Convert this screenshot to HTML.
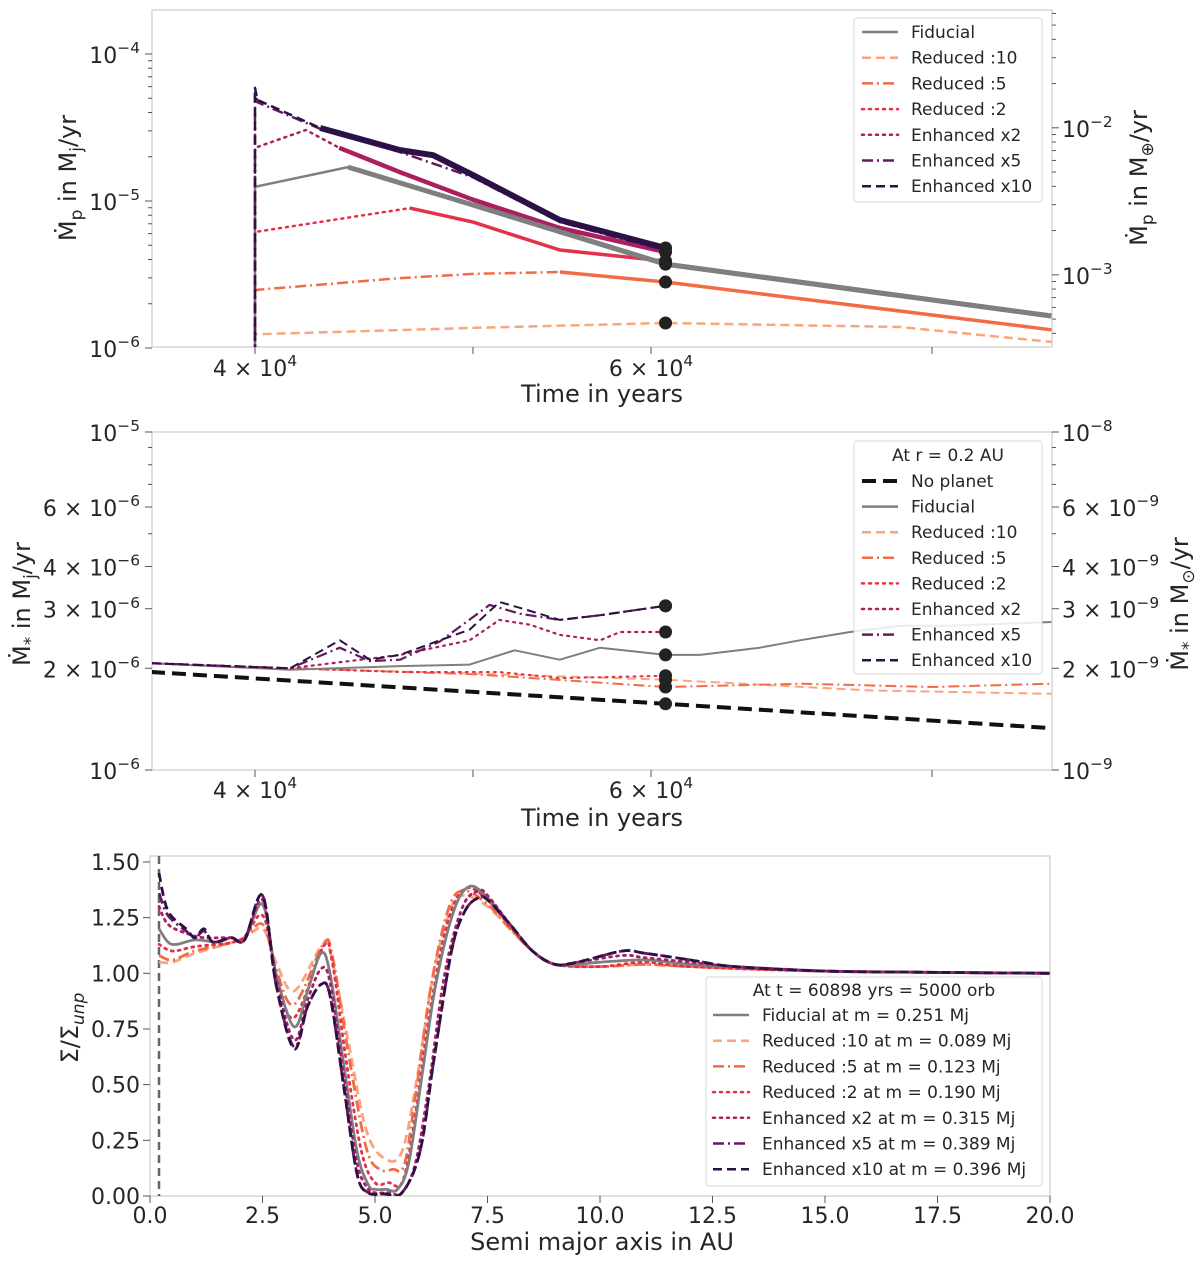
<!DOCTYPE html>
<html><head><meta charset="utf-8">
<style>
html,body{margin:0;padding:0;background:#fff;}
svg{display:block;font-family:"DejaVu Sans","Liberation Sans",sans-serif;}
</style></head>
<body>
<svg id="fig" width="1200" height="1264" viewBox="0 0 1200 1264" xmlns="http://www.w3.org/2000/svg"></svg>
<script>
// ---------- Panel 1 data: planet accretion rate (Mj/yr) ----------
const p1FidT = [40000,40000,44000,50000,60898,90400];
const p1FidV = [9e-7,1.25e-5,1.7e-5,9.4e-6,3.72e-6,1.65e-6];
const p1R10T = [40000,40000,50000,60898,77420,90400];
const p1R10V = [9e-7,1.24e-6,1.37e-6,1.48e-6,1.39e-6,1.10e-6];
const p1R5T = [40000,40000,46400,50000,54650,60898,90400];
const p1R5V = [9e-7,2.48e-6,2.99e-6,3.19e-6,3.29e-6,2.81e-6,1.33e-6];
const p1R2T = [40000,40000,46870,50000,54650,60898];
const p1R2V = [9e-7,6.15e-6,8.95e-6,7.19e-6,4.64e-6,3.9e-6];
const p1E2T = [40000,40000,42140,43600,46400,50000,54650,60898];
const p1E2V = [9e-7,2.3e-5,3.04e-5,2.3e-5,1.57e-5,1.02e-5,6.55e-6,4.5e-6];
const p1E5T = [40000,40000,40100,42760,46400,50000,54650,60898];
const p1E5V = [9e-7,5.7e-5,4.7e-5,3.1e-5,2.15e-5,1.45e-5,7.2e-6,4.6e-6];
const p1E10T = [40000,40000,40100,42760,46400,48000,50000,54650,60898];
const p1E10V = [9e-7,5.88e-5,4.87e-5,3.14e-5,2.22e-5,2.05e-5,1.5e-5,7.43e-6,4.79e-6];
const p1LeftTicks = [1e-6,1e-5,1e-4];
const p1LeftLabels = ["−6","−5","−4"];
const p1RightTicks = [1e-3,1e-2];
const p1RightLabels = ["−3","−2"];

// ---------- Panel 2 data: stellar accretion rate (Mj/yr) ----------
const p2NoT = [35960,60898,90400];
const p2NoV = [1.95e-6,1.57e-6,1.33e-6];
const p2FidT = [35960,41460,46400,49830,52180,54650,56950,60898,63080,67070,69880,73560,77420,81470,90400];
const p2FidV = [2.07e-6,1.98e-6,2.03e-6,2.05e-6,2.26e-6,2.12e-6,2.30e-6,2.19e-6,2.19e-6,2.30e-6,2.42e-6,2.56e-6,2.67e-6,2.67e-6,2.74e-6];
const p2R10T = [35960,41460,50000,60898,75000,90400];
const p2R10V = [2.07e-6,2.0e-6,1.93e-6,1.85e-6,1.72e-6,1.68e-6];
const p2R5T = [35960,41460,50000,60898,70000,80000,90400];
const p2R5V = [2.07e-6,2.0e-6,1.92e-6,1.76e-6,1.8e-6,1.76e-6,1.8e-6];
const p2R2T = [35960,41460,46400,51380,54650,60898];
const p2R2V = [2.07e-6,2.0e-6,1.95e-6,1.95e-6,1.87e-6,1.90e-6];
const p2E2T = [35960,41460,46400,49830,51380,53000,54650,56950,58130,60898];
const p2E2V = [2.07e-6,2.0e-6,2.19e-6,2.42e-6,2.78e-6,2.69e-6,2.51e-6,2.42e-6,2.56e-6,2.56e-6];
const p2E5T = [35960,41460,43630,44990,46400,48330,50860,52450,54650,56950,60898];
const p2E5V = [2.07e-6,2.0e-6,2.3e-6,2.1e-6,2.12e-6,2.4e-6,3.08e-6,2.9e-6,2.78e-6,2.87e-6,3.06e-6];
const p2E10T = [35960,41460,43630,44990,46400,48330,49830,51380,52450,54650,56950,60898];
const p2E10V = [2.07e-6,2.0e-6,2.42e-6,2.12e-6,2.19e-6,2.42e-6,2.6e-6,3.14e-6,3.02e-6,2.78e-6,2.87e-6,3.06e-6];
const p2Ticks = [1e-6,2e-6,3e-6,4e-6,6e-6,1e-5];
const p2LeftLabels = [["10","−6"],["2 × 10","−6"],["3 × 10","−6"],["4 × 10","−6"],["6 × 10","−6"],["10","−5"]];
const p2RightLabels = [["10","−9"],["2 × 10","−9"],["3 × 10","−9"],["4 × 10","−9"],["6 × 10","−9"],["10","−8"]];

// ---------- Panel 3 data: surface density profiles ----------
const p3FidR = [0.2,0.4,0.6,1.0,1.5,1.8,2.1,2.5,2.8,3.2,3.5,3.8,4.0,4.3,4.6,4.85,5.0,5.25,5.5,5.75,6.05,6.35,6.75,7.1,7.5,8.0,8.5,9.0,9.5,10,11,12,13,15,17,20];
const p3FidV = [1.2,1.14,1.13,1.15,1.14,1.16,1.15,1.31,1.0,0.76,0.92,1.09,1.0,0.6,0.2,0.05,0.03,0.03,0.03,0.15,0.55,0.95,1.28,1.39,1.34,1.22,1.10,1.04,1.04,1.05,1.06,1.04,1.03,1.01,1.005,1.0];
const p3R10R = [0.2,0.5,1.0,2.0,2.5,2.8,3.2,3.8,4.0,4.4,4.8,5.2,5.6,5.95,6.3,6.7,7.0,7.5,8.0,8.5,9.0,10,11,12,15,20];
const p3R10V = [1.05,1.05,1.09,1.15,1.2,1.05,0.92,1.12,1.1,0.7,0.3,0.17,0.2,0.55,1.0,1.3,1.35,1.3,1.2,1.1,1.04,1.03,1.04,1.03,1.01,1.0];
const p3R5R = [0.2,0.5,1.0,2.0,2.5,2.8,3.2,3.85,4.05,4.4,4.8,5.1,5.4,5.65,5.9,6.25,6.65,7.0,7.5,8.0,8.5,9.0,10,11,12,15,20];
const p3R5V = [1.08,1.06,1.1,1.15,1.22,1.02,0.86,1.13,1.08,0.65,0.22,0.12,0.12,0.14,0.45,0.95,1.3,1.37,1.31,1.2,1.1,1.04,1.03,1.04,1.03,1.01,1.0];
const p3R2R = [0.2,0.5,1.0,2.0,2.5,2.8,3.2,3.85,4.05,4.35,4.7,5.0,5.3,5.6,5.85,6.2,6.6,7.0,7.5,8.0,8.5,9.0,10,11,12,15,20];
const p3R2V = [1.13,1.1,1.12,1.15,1.26,1.0,0.8,1.12,1.05,0.62,0.2,0.06,0.06,0.06,0.3,0.8,1.22,1.38,1.33,1.21,1.1,1.04,1.03,1.05,1.03,1.01,1.0];
const p3E2R = [0.2,0.4,0.8,1.2,1.8,2.1,2.5,2.8,3.2,3.5,3.8,4.0,4.3,4.6,4.85,5.0,5.3,5.6,5.9,6.2,6.55,6.95,7.3,7.5,8.0,8.5,9.0,9.5,10.5,11,12,13,15,17,20];
const p3E2V = [1.3,1.22,1.18,1.16,1.16,1.15,1.33,0.98,0.7,0.88,1.02,0.96,0.55,0.15,0.03,0.015,0.015,0.015,0.15,0.5,1.0,1.3,1.37,1.35,1.22,1.1,1.04,1.05,1.08,1.07,1.05,1.03,1.01,1.005,1.0];
const p3E5R = [0.2,0.4,0.8,1.0,1.2,1.4,1.8,2.1,2.5,2.8,3.2,3.5,3.8,4.0,4.3,4.6,4.85,5.2,5.6,6.0,6.3,6.7,7.0,7.3,7.5,8.0,8.5,9.0,9.5,10.5,11,12,13,15,17,20];
const p3E5V = [1.36,1.26,1.19,1.16,1.19,1.14,1.16,1.15,1.35,0.95,0.67,0.85,0.95,0.9,0.5,0.1,0.015,0.01,0.015,0.2,0.6,1.1,1.28,1.34,1.33,1.22,1.1,1.04,1.05,1.1,1.09,1.06,1.03,1.01,1.005,1.0];
const p3E10R = [0.2,0.4,0.8,1.0,1.2,1.4,1.8,2.1,2.5,2.8,3.2,3.5,3.8,4.0,4.3,4.6,4.85,5.2,5.6,6.0,6.3,6.7,7.0,7.3,7.5,8.0,8.5,9.0,9.5,10.5,11,12,13,15,17,20];
const p3E10V = [1.45,1.28,1.2,1.16,1.2,1.14,1.16,1.15,1.35,0.95,0.66,0.85,0.95,0.9,0.5,0.1,0.015,0.01,0.015,0.2,0.6,1.1,1.28,1.34,1.33,1.22,1.1,1.04,1.05,1.1,1.09,1.06,1.03,1.01,1.005,1.0];
const p3XTicks = [0,2.5,5,7.5,10,12.5,15,17.5,20];
const p3XLabels = ["0.0","2.5","5.0","7.5","10.0","12.5","15.0","17.5","20.0"];
const p3YTicks = [0,0.25,0.5,0.75,1.0,1.25,1.5];
const p3YLabels = ["0.00","0.25","0.50","0.75","1.00","1.25","1.50"];

// ---------- helpers ----------
const NS = "http://www.w3.org/2000/svg";
const svg = document.getElementById("fig");
function mk(tag, attrs, parent){ const e=document.createElementNS(NS,tag); for(const k in attrs) e.setAttribute(k,attrs[k]); (parent||svg).appendChild(e); return e; }
const C = {fid:"#7f7f7f", r10:"#f9a57d", r5:"#f36b46", r2:"#e4314b", e2:"#ab1f5f", e5:"#661a5c", e10:"#2b1145", no:"#111"};
const DASH = {solid:"", dash:"9,5", dashdot:"11,4,2,4", dot:"2,5", bigdash:"14,7"};

const X1 = t => 255 + (Math.log10(t) - Math.log10(40000)) * 2249;
const Y1 = v => 54 + (-4 - Math.log10(v)) * 147;
const Y1r = v => 54 + (-4 - Math.log10(v / 317.8)) * 147;
const Y2 = v => 770 - (Math.log10(v) + 6) * 338;
const X3 = r => 150 + 45 * r;
const Y3 = v => 1196 - 222.7 * v;

function pathFrom(xs, ys, fx, fy){ return xs.map((x,i)=>(i?"L":"M")+fx(x).toFixed(1)+","+fy(ys[i]).toFixed(1)).join(" "); }
function smoothPath(xs, ys, fx, fy){
  const P = xs.map((x,i)=>[fx(x), fy(ys[i])]);
  let d = "M"+P[0][0].toFixed(1)+","+P[0][1].toFixed(1);
  for(let i=0;i<P.length-1;i++){
    const p0=P[Math.max(0,i-1)], p1=P[i], p2=P[i+1], p3=P[Math.min(P.length-1,i+2)];
    const c1=[p1[0]+(p2[0]-p0[0])/6, p1[1]+(p2[1]-p0[1])/6];
    const c2=[p2[0]-(p3[0]-p1[0])/6, p2[1]-(p3[1]-p1[1])/6];
    d += " C"+c1[0].toFixed(1)+","+c1[1].toFixed(1)+" "+c2[0].toFixed(1)+","+c2[1].toFixed(1)+" "+p2[0].toFixed(1)+","+p2[1].toFixed(1);
  }
  return d;
}
function powText(x, y, base, exp, anchor, size, name){
  const t = mk("text",{x:x,y:y,"text-anchor":anchor,"font-size":size,fill:"#262626"});
  
  
  const a = mk("tspan",{},t); a.textContent = base;
  const b = mk("tspan",{dy:-size*0.45,"font-size":size*0.7},t); b.textContent = exp;
  return t;
}
function label(x,y,str,size,anchor,name,extra){
  const t = mk("text",Object.assign({x:x,y:y,"font-size":size,"text-anchor":anchor||"start",fill:"#262626"},extra||{}));
  
  
  t.textContent = str; return t;
}
function frame(x0,y0,x1,y1,name){
  const r = mk("rect",{x:x0,y:y0,width:x1-x0,height:y1-y0,fill:"none",stroke:"#cfcfcf","stroke-width":1.3});
  
  
}
function clip(id,x0,y0,x1,y1){ const cp=mk("clipPath",{id:id}); mk("rect",{x:x0,y:y0,width:x1-x0,height:y1-y0},cp); }
function tick(x1,y1,x2,y2){ mk("line",{x1:x1,y1:y1,x2:x2,y2:y2,stroke:"#555","stroke-width":1}); }
function series(xs, ys, fx, fy, color, style, width, clipId, name, smooth){
  const p = mk("path",{d: smooth?smoothPath(xs,ys,fx,fy):pathFrom(xs,ys,fx,fy), fill:"none", stroke:color, "stroke-width":width, "stroke-dasharray":DASH[style], "stroke-linecap": style==="dot"?"round":"butt", "stroke-linejoin":"round", "clip-path":"url(#"+clipId+")"});
  
  
  return p;
}
function legendEntry(x, y, color, style, width, text, name){
  const g = mk("g",{});
  
  
  mk("line",{x1:x,y1:y,x2:x+36,y2:y,stroke:color,"stroke-width":width,"stroke-dasharray":DASH[style],"stroke-linecap":style==="dot"?"round":"butt"},g);
  const t = mk("text",{x:x+49,y:y+6,"font-size":17,fill:"#262626"},g); t.textContent = text;
}
function legendBox(x,y,w,h,name){
  const r = mk("rect",{x:x,y:y,width:w,height:h,rx:3,fill:"#fff","fill-opacity":0.85,stroke:"#d8d8d8","stroke-width":1});
  
  
}
function dot(x,y,name){ const c=mk("circle",{cx:x,cy:y,r:6.5,fill:"#222"});   }

// ================= PANEL 1 =================
clip("c1",152,10,1052,347);
frame(152,10,1052,347,"panel1-frame");
p1LeftTicks.forEach((v,i)=>{ const y=Y1(v); tick(145,y,152,y); powText(140,y+9,"10",p1LeftLabels[i],"end",22,"p1-ytick-label"); });
for(let d=-6; d<-3.7; d++) for(let m=2;m<10;m++){ const y=Y1(m*Math.pow(10,d)); if(y>10) tick(148,y,152,y); }
p1RightTicks.forEach((v,i)=>{ const y=Y1r(v); tick(1052,y,1059,y); powText(1062,y+9,"10",p1RightLabels[i],"start",22,"p1-right-tick-label"); });
for(let d=-4; d<-1; d++) for(let m=2;m<10;m++){ const y=Y1r(m*Math.pow(10,d)); if(y>10&&y<347) tick(1052,y,1056,y); }
[40000,50000,60000,80000].forEach(t=>tick(X1(t),347,X1(t),354));
powText(X1(40000),376,"4 × 10","4","middle",22,"p1-xtick-label");
powText(X1(60000),376,"6 × 10","4","middle",22,"p1-xtick-label");
label(602,402,"Time in years",24,"middle","p1-x-axis-title");
(function(){ const t=label(0,0,"",24,"middle","p1-y-axis-title",{transform:"translate(76,178) rotate(-90)"}); t.innerHTML='<tspan>Ṁ</tspan><tspan font-size="17" dy="6">p</tspan><tspan dy="-6"> in M</tspan><tspan font-size="17" dy="6">j</tspan><tspan dy="-6">/yr</tspan>'; })();
(function(){ const t=label(0,0,"",24,"middle","p1-right-axis-title",{transform:"translate(1147,178) rotate(-90)"}); t.innerHTML='<tspan>Ṁ</tspan><tspan font-size="17" dy="6">p</tspan><tspan dy="-6"> in M</tspan><tspan font-size="17" dy="6">⊕</tspan><tspan dy="-6">/yr</tspan>'; })();

series(p1R10T,p1R10V,X1,Y1,C.r10,"dash",2.5,"c1","p1-reduced10");
series(p1R5T,p1R5V,X1,Y1,C.r5,"dashdot",2.5,"c1","p1-reduced5");
series(p1R5T.slice(4),p1R5V.slice(4),X1,Y1,C.r5,"solid",3.5,"c1","p1-reduced5-band");
series(p1R2T,p1R2V,X1,Y1,C.r2,"dot",2.5,"c1","p1-reduced2");
series(p1R2T.slice(2),p1R2V.slice(2),X1,Y1,C.r2,"solid",3.5,"c1","p1-reduced2-band");
series(p1FidT,p1FidV,X1,Y1,C.fid,"solid",2.5,"c1","p1-fiducial");
series(p1FidT.slice(2),p1FidV.slice(2),X1,Y1,C.fid,"solid",5,"c1","p1-fiducial-band");
series(p1E2T,p1E2V,X1,Y1,C.e2,"dot",2.5,"c1","p1-enhanced2");
series(p1E2T.slice(3),p1E2V.slice(3),X1,Y1,C.e2,"solid",4.5,"c1","p1-enhanced2-band");
series(p1E5T,p1E5V,X1,Y1,C.e5,"dashdot",2.5,"c1","p1-enhanced5");
series(p1E10T,p1E10V,X1,Y1,C.e10,"dash",2.5,"c1","p1-enhanced10");
series(p1E10T.slice(3),p1E10V.slice(3),X1,Y1,C.e10,"solid",6,"c1","p1-enhanced10-band");
series(p1FidT.slice(3),p1FidV.slice(3),X1,Y1,C.fid,"solid",5,"c1","p1-fiducial-band-top");
[p1E10V,p1E2V,p1R2V,p1R5V,p1R10V,p1FidV].forEach((arr,k)=>{
  const ts=[p1E10T,p1E2T,p1R2T,p1R5T,p1R10T,p1FidT][k]; const i=ts.indexOf(60898); if(i>=0) dot(X1(60898),Y1(arr[i]),"p1-end-marker");
});
legendBox(854,18,188,184,"p1-legend");
[[C.fid,"solid","Fiducial"],[C.r10,"dash","Reduced :10"],[C.r5,"dashdot","Reduced :5"],[C.r2,"dot","Reduced :2"],[C.e2,"dot","Enhanced x2"],[C.e5,"dashdot","Enhanced x5"],[C.e10,"dash","Enhanced x10"]]
  .forEach((e,i)=>legendEntry(862,32+i*25.7,e[0],e[1],2.5,e[2],"p1-legend-entry"));

// ================= PANEL 2 =================
clip("c2",152,432,1052,770);
frame(152,432,1052,770,"panel2-frame");
p2Ticks.forEach((v,i)=>{ const y=Y2(v); tick(145,y,152,y); tick(1052,y,1059,y);
  powText(140,y+9,p2LeftLabels[i][0],p2LeftLabels[i][1],"end",22,"p2-ytick-label");
  powText(1062,y+9,p2RightLabels[i][0],p2RightLabels[i][1],"start",22,"p2-right-tick-label"); });
[5e-6,7e-6,8e-6,9e-6].forEach(v=>{ const y=Y2(v); tick(148,y,152,y); tick(1052,y,1056,y); });
[40000,50000,60000,80000].forEach(t=>tick(X1(t),770,X1(t),777));
powText(X1(40000),798,"4 × 10","4","middle",22,"p2-xtick-label");
powText(X1(60000),798,"6 × 10","4","middle",22,"p2-xtick-label");
label(602,826,"Time in years",24,"middle","p2-x-axis-title");
(function(){ const t=label(0,0,"",24,"middle","p2-y-axis-title",{transform:"translate(30,604) rotate(-90)"}); t.innerHTML='<tspan>Ṁ</tspan><tspan font-size="17" dy="6">*</tspan><tspan dy="-6"> in M</tspan><tspan font-size="17" dy="6">j</tspan><tspan dy="-6">/yr</tspan>'; })();
(function(){ const t=label(0,0,"",24,"middle","p2-right-axis-title",{transform:"translate(1188,604) rotate(-90)"}); t.innerHTML='<tspan>Ṁ</tspan><tspan font-size="17" dy="6">*</tspan><tspan dy="-6"> in M</tspan><tspan font-size="17" dy="6">⊙</tspan><tspan dy="-6">/yr</tspan>'; })();
series(p2NoT,p2NoV,X1,Y2,C.no,"bigdash",4,"c2","p2-no-planet");
series(p2R10T,p2R10V,X1,Y2,C.r10,"dash",2,"c2","p2-reduced10");
series(p2R5T,p2R5V,X1,Y2,C.r5,"dashdot",2,"c2","p2-reduced5");
series(p2R2T,p2R2V,X1,Y2,C.r2,"dot",2,"c2","p2-reduced2");
series(p2FidT,p2FidV,X1,Y2,C.fid,"solid",2,"c2","p2-fiducial");
series(p2E2T,p2E2V,X1,Y2,C.e2,"dot",2.2,"c2","p2-enhanced2");
series(p2E5T,p2E5V,X1,Y2,C.e5,"dashdot",2.2,"c2","p2-enhanced5");
series(p2E10T,p2E10V,X1,Y2,C.e10,"dash",2,"c2","p2-enhanced10");
[[p2NoT,p2NoV],[p2FidT,p2FidV],[p2R10T,p2R10V],[p2R5T,p2R5V],[p2R2T,p2R2V],[p2E2T,p2E2V],[p2E5T,p2E5V],[p2E10T,p2E10V]].forEach(s=>{
  const i=s[0].indexOf(60898); if(i>=0) dot(X1(60898),Y2(s[1][i]),"p2-end-marker"); });
legendBox(854,441,188,233,"p2-legend");
label(948,461,"At r = 0.2 AU",17,"middle","p2-legend-title");
[[C.no,"bigdash",4,"No planet"],[C.fid,"solid",2.5,"Fiducial"],[C.r10,"dash",2.5,"Reduced :10"],[C.r5,"dashdot",2.5,"Reduced :5"],[C.r2,"dot",2.5,"Reduced :2"],[C.e2,"dot",2.5,"Enhanced x2"],[C.e5,"dashdot",2.5,"Enhanced x5"],[C.e10,"dash",2.5,"Enhanced x10"]]
  .forEach((e,i)=>legendEntry(862,481+i*25.6,e[0],e[1],e[2],e[3],"p2-legend-entry"));

// ================= PANEL 3 =================
clip("c3",150,856,1050,1196);
frame(150,856,1050,1196,"panel3-frame");
p3XTicks.forEach((r,i)=>{ const x=X3(r); tick(x,1196,x,1203); label(x,1223,p3XLabels[i],22,"middle","p3-xtick-label"); });
p3YTicks.forEach((v,i)=>{ const y=Y3(v); tick(143,y,150,y); label(140,y+8,p3YLabels[i],22,"end","p3-ytick-label"); });
label(602,1250,"Semi major axis in AU",24,"middle","p3-x-axis-title");
(function(){ const t=label(0,0,"",24,"middle","p3-y-axis-title",{transform:"translate(78,1028) rotate(-90)"}); t.innerHTML='<tspan>Σ/Σ</tspan><tspan font-size="17" dy="6" font-style="italic">unp</tspan>'; })();
(function(){ const l=mk("line",{x1:X3(0.2),y1:856,x2:X3(0.2),y2:1196,stroke:"#666","stroke-width":2.5,"stroke-dasharray":"8,5"});   })();
series(p3R10R,p3R10V,X3,Y3,C.r10,"dash",2.8,"c3","p3-reduced10",true);
series(p3R5R,p3R5V,X3,Y3,C.r5,"dashdot",2.8,"c3","p3-reduced5",true);
series(p3R2R,p3R2V,X3,Y3,C.r2,"dot",2.8,"c3","p3-reduced2",true);
series(p3FidR,p3FidV,X3,Y3,C.fid,"solid",2.8,"c3","p3-fiducial",true);
series(p3E2R,p3E2V,X3,Y3,C.e2,"dot",2.8,"c3","p3-enhanced2",true);
series(p3E5R,p3E5V,X3,Y3,C.e5,"dashdot",2.8,"c3","p3-enhanced5",true);
series(p3E10R,p3E10V,X3,Y3,C.e10,"dash",2.8,"c3","p3-enhanced10",true);
legendBox(706,977,336,209,"p3-legend");
label(874,996,"At t = 60898 yrs = 5000 orb",17,"middle","p3-legend-title");
[[C.fid,"solid","Fiducial at m = 0.251 Mj"],[C.r10,"dash","Reduced :10 at m = 0.089 Mj"],[C.r5,"dashdot","Reduced :5 at m = 0.123 Mj"],[C.r2,"dot","Reduced :2 at m = 0.190 Mj"],[C.e2,"dot","Enhanced x2 at m = 0.315 Mj"],[C.e5,"dashdot","Enhanced x5 at m = 0.389 Mj"],[C.e10,"dash","Enhanced x10 at m = 0.396 Mj"]]
  .forEach((e,i)=>legendEntry(713,1015+i*25.7,e[0],e[1],2.5,e[2],"p3-legend-entry"));
</script>
</body></html>
